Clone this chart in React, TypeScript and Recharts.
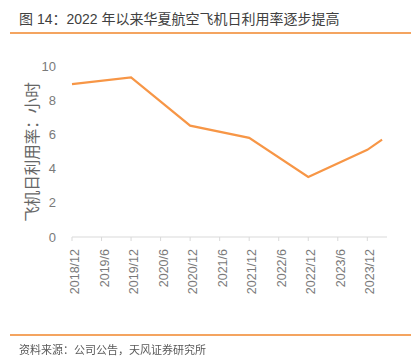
import React from 'react';
import { LineChart, Line, XAxis, YAxis } from 'recharts';

// months since 2018/12
const months = [0, 12, 24, 36, 48, 60, 63];
const utilization = [8.94, 9.33, 6.51, 5.8, 3.51, 5.1, 5.69];
const tickMonths = [0, 6, 12, 18, 24, 30, 36, 42, 48, 54, 60];
const tickLabels = ['2018/12', '2019/6', '2019/12', '2020/6', '2020/12', '2021/6', '2021/12', '2022/6', '2022/12', '2023/6', '2023/12'];
const yTicks = [0, 2, 4, 6, 8, 10];

const data = months.map((m, i) => ({ m, v: utilization[i] }));

const FONT = '"Liberation Sans", "Noto Sans CJK SC", sans-serif';
const ORANGE = '#f79646';

function XTick({ x, y, payload }: any) {
  const idx = tickMonths.indexOf(payload.value);
  return (
    <g transform={`translate(${x},${y})`}>
      <text x={-6} y={0} dy={7} textAnchor="end" transform="rotate(-90)" fill="#7a7a7a" fontSize={12.5} fontFamily={FONT}>
        {tickLabels[idx]}
      </text>
    </g>
  );
}

export default function App() {
  return (
    <div style={{ position: 'fixed', left: 0, top: 0, width: 419, height: 357, background: '#fff', fontFamily: FONT }}>
      <div style={{ position: 'absolute', left: 19, top: 9, fontSize: 14, color: '#404040', whiteSpace: 'nowrap', lineHeight: '20px' }}>
        图 14：2022 年以来华夏航空飞机日利用率逐步提高
      </div>
      <div style={{ position: 'absolute', left: 10, top: 32, width: 401, height: 1.5, background: '#f4a460' }} />

      <div style={{ position: 'absolute', left: 0, top: 0 }}>
        <LineChart width={419} height={357} data={data} margin={{ top: 66, right: 32, left: 32, bottom: 60 }}>
          <XAxis
            dataKey="m"
            type="number"
            domain={[0, 64]}
            ticks={tickMonths}
            interval={0}
            height={60}
            tick={<XTick />}
            tickSize={4}
            tickLine={{ stroke: '#d9d9d9' }}
            axisLine={{ stroke: '#d9d9d9' }}
          />
          <YAxis
            width={40}
            domain={[0, 10]}
            ticks={yTicks}
            interval={0}
            axisLine={false}
            tickLine={false}
            tickMargin={10}
            tick={{ fill: '#7a7a7a', fontSize: 13, fontFamily: FONT }}
          />
          <Line type="linear" dataKey="v" stroke={ORANGE} strokeWidth={2.2} dot={false} isAnimationActive={false} />
        </LineChart>
      </div>

      <svg style={{ position: 'absolute', left: 0, top: 0 }} width={419} height={357} pointerEvents="none">
        <text x={32} y={152} transform="rotate(-90 32 152)" textAnchor="middle" dominantBaseline="central" fill="#666666" fontSize={15.5} fontFamily={FONT}>
          飞机日利用率：小时
        </text>
      </svg>

      <div style={{ position: 'absolute', left: 10, top: 334, width: 401, height: 1.5, background: '#f4a460' }} />
      <div style={{ position: 'absolute', left: 19, top: 342, fontSize: 11, color: '#595959', whiteSpace: 'nowrap', lineHeight: '16px' }}>
        资料来源：公司公告，天风证券研究所
      </div>
    </div>
  );
}
